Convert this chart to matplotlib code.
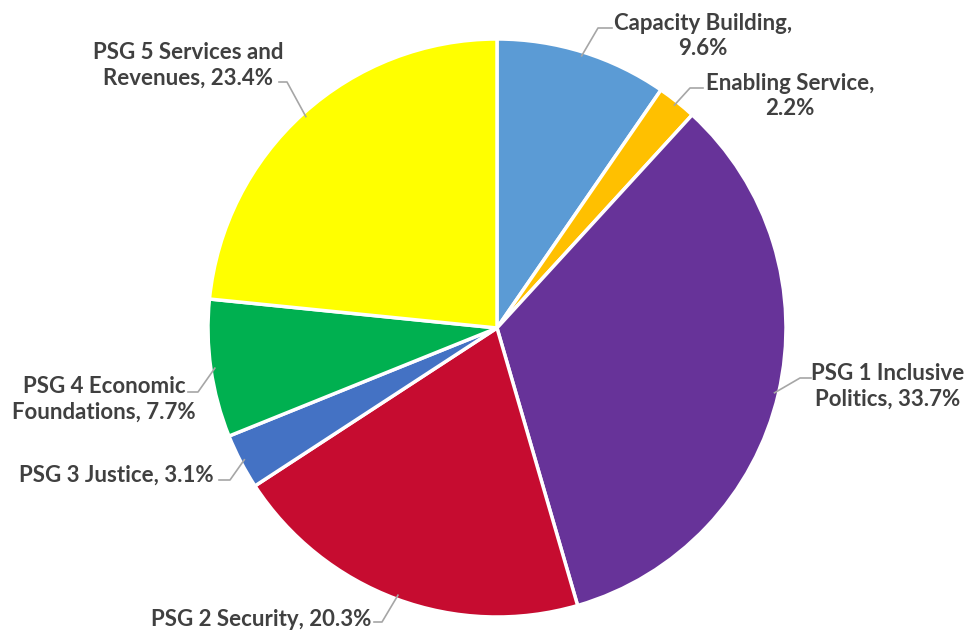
import numpy as np
import matplotlib
matplotlib.use('Agg')
import matplotlib.pyplot as plt

labels = ['Capacity Building,\n9.6%', 'Enabling Service,\n2.2%', 'PSG 1 Inclusive\nPolitics, 33.7%',
          'PSG 2 Security, 20.3%', 'PSG 3 Justice, 3.1%', 'PSG 4 Economic\nFoundations, 7.7%',
          'PSG 5 Services and\nRevenues, 23.4%']
values = [9.6, 2.2, 33.7, 20.3, 3.1, 7.7, 23.4]
colors = ['#5B9BD5', '#FFC000', '#673399', '#C60C30', '#4472C4', '#00B050', '#FFFF00']

W, H = 966, 633
cx, cy, R = 497, H - 328, 289

# label text positions (pixels, from top) and the elbow of each leader line
lab_pos = [(703, 36), (790, 96), (888, 386), (261, 620), (116, 475), (104, 399), (188, 65)]
elbow = [((598, 28), (612, 28)), ((690, 88), (703, 88)), ((800, 378), (811, 378)),
         ((382, 622), (374, 622)), ((230, 480), (219, 480)), ((198, 392), (188, 392)),
         ((287, 82), (279, 82))]

fig = plt.figure(figsize=(9.66, 6.33), dpi=100)
ax = fig.add_axes([0, 0, 1, 1])

wedges, _ = ax.pie(values, startangle=90, counterclock=False, colors=colors,
                   center=(cx, cy), radius=R, frame=True,
                   wedgeprops=dict(edgecolor='white', linewidth=2.5))
ax.set_xlim(0, W)
ax.set_ylim(0, H)
ax.axis('off')

for w, lab, (tx, ty), (e1, e2) in zip(wedges, labels, lab_pos, elbow):
    ang = np.deg2rad((w.theta1 + w.theta2) / 2)
    sx = cx + (R - 4) * np.cos(ang)
    sy = cy + (R - 4) * np.sin(ang)
    ax.plot([sx, e1[0], e2[0]], [sy, H - e1[1], H - e2[1]], color='#A6A6A6', lw=1.2)
    ax.text(tx, H - ty, lab, ha='center', va='center', fontsize=16, fontweight='bold',
            family='Lato', color='#404040', linespacing=1.28)

fig.savefig('out.png', dpi=100)
